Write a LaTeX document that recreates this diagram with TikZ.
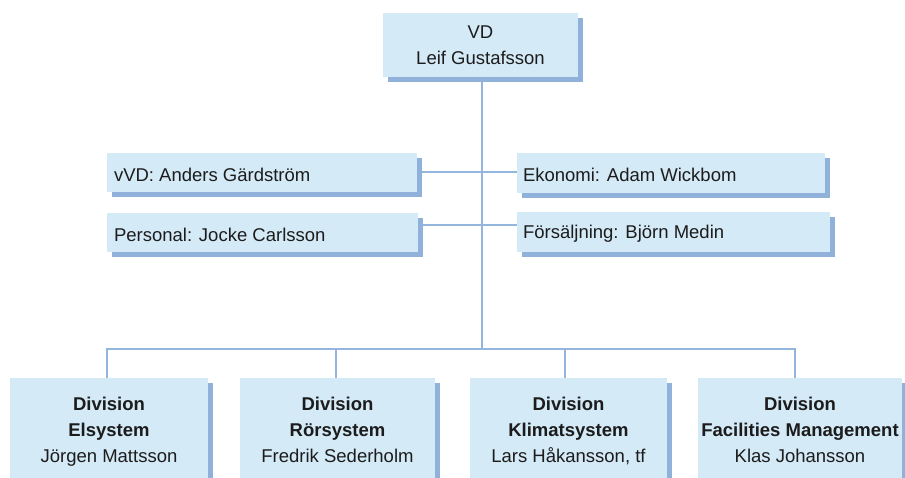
\documentclass[tikz,border=0pt]{standalone}
\usepackage{fontspec}
\setmainfont{Liberation Sans}
\usetikzlibrary{backgrounds,calc}
\definecolor{boxfill}{HTML}{D4EAF7}
\definecolor{boxshade}{HTML}{8FB1DA}
\definecolor{linkcol}{HTML}{94B5DC}
\definecolor{inkcol}{HTML}{1C1C1C}
\tikzset{
  label text/.style={rectangle, inner sep=0pt, text=inkcol,
    font=\fontsize{18.5}{26}\selectfont},
  card/.style={label text, fill=boxfill,
    preaction={fill=boxshade, transform canvas={shift={(5pt,-5pt)}}}},
  link/.style={draw=linkcol, line width=2.9pt},
}
\begin{document}
\begin{tikzpicture}[x=1pt,y=-1pt]
\useasboundingbox (0,0) rectangle (905,477);
\clip (0,0) rectangle (905,477);

% top level
\node[card, minimum width=195pt, minimum height=64pt, align=center] (vd) at (480.5,45) {VD\\Leif Gustafsson};

% staff functions
\node[card, minimum width=310pt, minimum height=39pt] (vvd) at (262,172.5) {};
\node[label text, anchor=west] (vvdt) at ($(vvd.west)+(7,2)$) {vVD: Anders Gärdström};
\node[card, minimum width=311pt, minimum height=39pt] (pers) at (262.5,232.5) {};
\node[label text, anchor=west] (perst) at ($(pers.west)+(7,2)$) {Personal: Jocke Carlsson};
\node[card, minimum width=308pt, minimum height=40pt] (eko) at (671,173) {};
\node[label text, anchor=west] (ekot) at ($(eko.west)+(6,2)$) {Ekonomi: Adam Wickbom};
\node[card, minimum width=313pt, minimum height=40pt] (fsg) at (673.5,232) {};
\node[label text, anchor=west] (fsgt) at ($(fsg.west)+(6,2)$) {Försäljning: Björn Medin};

% divisions
\node[card, minimum width=198pt, minimum height=110pt, anchor=north] (d1) at (109,378) {};
\node[card, minimum width=195pt, minimum height=110pt, anchor=north] (d2) at (337.5,378) {};
\node[card, minimum width=197pt, minimum height=110pt, anchor=north] (d3) at (568.5,378) {};
\node[card, minimum width=204pt, minimum height=110pt, anchor=north] (d4) at (800,378) {};
\node[label text, align=center, anchor=north] (d1t) at ($(d1.north)+(0,19)$) {\textbf{Division}\\\textbf{Elsystem}\\Jörgen Mattsson};
\node[label text, align=center, anchor=north] (d2t) at ($(d2.north)+(0,19)$) {\textbf{Division}\\\textbf{Rörsystem}\\Fredrik Sederholm};
\node[label text, align=center, anchor=north] (d3t) at ($(d3.north)+(0,19)$) {\textbf{Division}\\\textbf{Klimatsystem}\\Lars Håkansson, tf};
\node[label text, align=center, anchor=north] (d4t) at ($(d4.north)+(0,19)$) {\textbf{Division}\\\textbf{Facilities Management}\\Klas Johansson};

% connectors, drawn behind the cards
\coordinate (spinetop) at (482,77);
\coordinate (bus) at (482,349);
\coordinate (row1) at (482,172);
\coordinate (row2) at (482,225);
\coordinate (drop1) at (107,378);
\coordinate (drop2) at (336,378);
\coordinate (drop3) at (565,378);
\coordinate (drop4) at (795,378);
\begin{pgfonlayer}{background}
  \fill[white] (0,0) rectangle (905,477);
  \draw[link] (spinetop) -- (bus);
  \draw[link] (row1 -| vvd.east) -- (row1 -| eko.west);
  \draw[link] (row2 -| pers.east) -- (row2 -| fsg.west);
  \draw[link] (drop1) -- (drop1 |- bus) -- (drop4 |- bus) -- (drop4);
  \draw[link] (drop2) -- (drop2 |- bus);
  \draw[link] (drop3) -- (drop3 |- bus);
\end{pgfonlayer}
\end{tikzpicture}
\end{document}
